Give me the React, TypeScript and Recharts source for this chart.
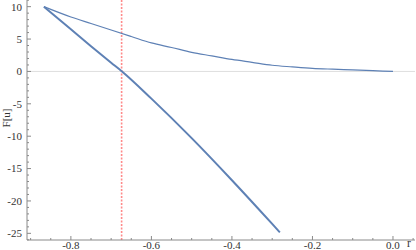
import React from "react";
import { LineChart, Line, XAxis, YAxis, ReferenceLine } from "recharts";

// upper curve (thin)
const upperR = [-0.867, -0.8, -0.75, -0.7, -0.65, -0.6, -0.55, -0.5, -0.45, -0.4, -0.35, -0.3, -0.25, -0.2, -0.15, -0.1, -0.05, 0];
const upperF = [10, 8.4, 7.4, 6.4, 5.4, 4.4, 3.7, 2.95, 2.4, 1.85, 1.4, 0.95, 0.7, 0.48, 0.35, 0.24, 0.12, 0];

// lower curve (thick)
const lowerR = [-0.867, -0.8, -0.75, -0.7, -0.673, -0.6, -0.5, -0.4, -0.3, -0.281];
const lowerF = [10, 6.5, 3.9, 1.35, 0, -4.2, -10.3, -16.8, -23.55, -24.85];

const cutoff = -0.674;

const xTicks = [-0.9, -0.85, -0.8, -0.75, -0.7, -0.65, -0.6, -0.55, -0.5, -0.45, -0.4, -0.35, -0.3, -0.25, -0.2, -0.15, -0.1, -0.05, 0, 0.05];
const xLabels = [-0.8, -0.6, -0.4, -0.2, 0];
const yTicks = [-26, -25, -24, -23, -22, -21, -20, -19, -18, -17, -16, -15, -14, -13, -12, -11, -10, -9, -8, -7, -6, -5, -4, -3, -2, -1, 0, 1, 2, 3, 4, 5, 6, 7, 8, 9, 10, 11];
const yLabels = [-25, -20, -15, -10, -5, 0, 5, 10];

const upperData = upperR.map((r, i) => ({ r, f: upperF[i] }));
const lowerData = lowerR.map((r, i) => ({ r, f: lowerF[i] }));

const FRAME = "#8a8a8a";
const BLUE = "#5e81b5";
const FONT = "'Liberation Serif', 'DejaVu Serif', serif";

const isLabel = (list: number[], v: number) => list.some((l) => Math.abs(l - v) < 1e-6);

const BottomTick = ({ x, y, payload }: any) => {
  const major = isLabel(xLabels, payload.value);
  return (
    <g>
      <line x1={x} x2={x} y1={y} y2={y - (major ? 4 : 2)} stroke={FRAME} />
      {major && (
        <text x={x} y={y + 1} dy="0.71em" textAnchor="middle" fontSize={11} fontFamily={FONT} fill="#333">
          {payload.value.toFixed(1)}
        </text>
      )}
    </g>
  );
};

const TopTick = ({ x, y, payload }: any) => {
  const major = isLabel(xLabels, payload.value);
  return <line x1={x} x2={x} y1={y} y2={y + (major ? 4 : 2)} stroke={FRAME} />;
};

const LeftTick = ({ x, y, payload }: any) => {
  const major = isLabel(yLabels, payload.value);
  return (
    <g>
      <line x1={x} x2={x + (major ? 4 : 2)} y1={y} y2={y} stroke={FRAME} />
      {major && (
        <text x={x - 5} y={y} dy="0.35em" textAnchor="end" fontSize={11} fontFamily={FONT} fill="#333">
          {payload.value}
        </text>
      )}
    </g>
  );
};

const RightTick = ({ x, y, payload }: any) => {
  const major = isLabel(yLabels, payload.value);
  return <line x1={x} x2={x - (major ? 4 : 2)} y1={y} y2={y} stroke={FRAME} />;
};

export default function App() {
  return (
    <div style={{ position: "absolute", left: 0, top: 0 }}>
      <LineChart width={416} height={250} margin={{ top: 0, right: 1, bottom: 0, left: 0 }}>
        <XAxis
          xAxisId="b"
          type="number"
          dataKey="r"
          domain={[-0.909, 0.0547]}
          allowDataOverflow
          ticks={xTicks}
          interval={0}
          height={10}
          tickSize={0}
          tickMargin={0}
          tickLine={false}
          tick={<BottomTick />}
          stroke={FRAME}
          label={{
            content: ({ viewBox }: any) => (
              <text
                x={viewBox.x + viewBox.width - 6}
                y={viewBox.y - 1}
                dy="0.71em"
                textAnchor="middle"
                fontSize={11.5}
                fontFamily={FONT}
                fill="#333"
              >
                r
              </text>
            ),
          }}
        />
        <XAxis
          xAxisId="t"
          orientation="top"
          type="number"
          dataKey="r"
          domain={[-0.909, 0.0547]}
          allowDataOverflow
          ticks={xTicks}
          interval={0}
          height={0}
          tickSize={0}
          tickMargin={0}
          tickLine={false}
          tick={<TopTick />}
          stroke={FRAME}
        />
        <YAxis
          yAxisId="l"
          type="number"
          domain={[-26.03, 11.03]}
          allowDataOverflow
          ticks={yTicks}
          interval={0}
          width={27}
          tickSize={0}
          tickMargin={0}
          tickLine={false}
          tick={<LeftTick />}
          stroke={FRAME}
          label={{
            content: ({ viewBox }: any) => {
              const cx = viewBox.x + 6;
              const cy = viewBox.y + viewBox.height / 2 - 2;
              return (
                <text
                  x={cx}
                  y={cy}
                  dy="0.35em"
                  textAnchor="middle"
                  transform={`rotate(-90, ${cx}, ${cy})`}
                  fontSize={11}
                  fontFamily={FONT}
                  fill="#333"
                >
                  F[u]
                </text>
              );
            },
          }}
        />
        <YAxis
          yAxisId="r"
          orientation="right"
          type="number"
          domain={[-26.03, 11.03]}
          allowDataOverflow
          ticks={yTicks}
          interval={0}
          width={0}
          tickSize={0}
          tickMargin={0}
          tickLine={false}
          tick={<RightTick />}
          stroke={FRAME}
        />
        <ReferenceLine xAxisId="b" yAxisId="l" y={0} stroke="#dedede" strokeWidth={1} />
        <ReferenceLine
          xAxisId="b"
          yAxisId="l"
          x={cutoff}
          stroke="#ff8a8a"
          strokeWidth={1.6}
          strokeDasharray="2 1.5"
        />
        <Line
          xAxisId="b"
          yAxisId="l"
          data={upperData}
          dataKey="f"
          type="monotone"
          stroke={BLUE}
          strokeWidth={1.2}
          dot={false}
          isAnimationActive={false}
        />
        <Line
          xAxisId="b"
          yAxisId="l"
          data={lowerData}
          dataKey="f"
          type="monotone"
          stroke={BLUE}
          strokeWidth={2}
          dot={false}
          isAnimationActive={false}
        />
      </LineChart>
    </div>
  );
}
